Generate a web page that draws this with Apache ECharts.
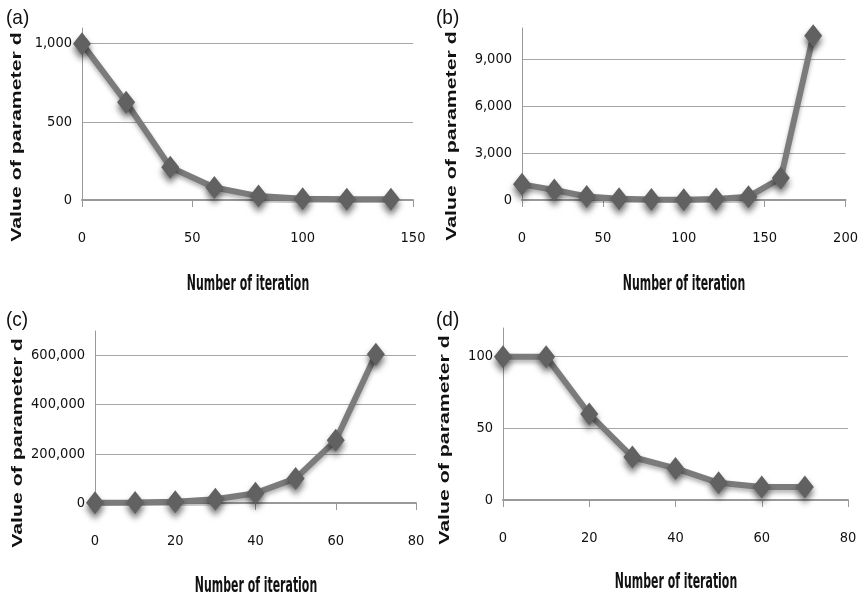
<!DOCTYPE html>
<html>
<head>
<meta charset="utf-8">
<script src="https://cdn.jsdelivr.net/npm/echarts@6/dist/echarts.min.js"></script>
<style>
html,body{margin:0;padding:0;background:#fff;}
#chart{width:861px;height:599px;}
</style>
</head>
<body>
<div id="chart"></div>
<script>
// ---- data ----
const panelLabels = ['(a)', '(b)', '(c)', '(d)'];
const xTitle = 'Number of iteration';
const yTitle = 'Value of parameter d';

const iterA = [0, 20, 40, 60, 80, 100, 120, 140];
const valA  = [1000, 625, 210, 80, 25, 8, 5, 5];

const iterB = [0, 20, 40, 60, 80, 100, 120, 140, 160, 180];
const valB  = [1000, 640, 220, 80, 30, 20, 60, 210, 1400, 10500];

const iterC = [0, 10, 20, 30, 40, 50, 60, 70];
const valC  = [1000, 2000, 5000, 15000, 40000, 100000, 255000, 605000];

const iterD = [0, 10, 20, 30, 40, 50, 60, 70];
const valD  = [100, 100, 60, 30, 22, 12, 9, 9];

// axis ranges / tick steps
const xMax = [150, 200, 80, 80];
const xStep = [50, 50, 20, 20];
const yMax = [1100, 11000, 700000, 120];
const yStep = [500, 3000, 200000, 50];

// ---- layout ----
const grids = [
  {left: 82,  right: 448, top: 28,  bottom: 399},
  {left: 522, right: 14,  top: 28,  bottom: 399},
  {left: 95,  right: 445, top: 331, bottom: 96},
  {left: 503, right: 13,  top: 328, bottom: 99}
];

const series = [[iterA, valA], [iterB, valB], [iterC, valC], [iterD, valD]];

const tickFont = '"DejaVu Sans Condensed", "Liberation Sans Narrow", sans-serif';
const fmt = v => Number(v).toLocaleString('en-US');

const xAxes = grids.map((g, i) => ({
  type: 'value', gridIndex: i, min: 0, max: xMax[i], interval: xStep[i],
  axisLine: {show: true, lineStyle: {color: '#999', width: 2}},
  axisTick: {show: true, length: 7, lineStyle: {color: '#999', width: 1}},
  axisLabel: {margin: 31, fontFamily: tickFont, fontSize: 14.5, color: '#111'},
  splitLine: {show: false}
}));

const yAxes = grids.map((g, i) => ({
  type: 'value', gridIndex: i, min: 0, max: yMax[i], interval: yStep[i],
  axisLine: {show: true, lineStyle: {color: '#999', width: 1}},
  axisTick: {show: false},
  axisLabel: {margin: 10, fontFamily: tickFont, fontSize: 14.5, color: '#111',
              showMaxLabel: false, formatter: fmt},
  splitLine: {show: true, showMaxLine: false, lineStyle: {color: '#a6a6a6', width: 1}}
}));

const seriesOpts = series.map((s, i) => ({
  type: 'line', xAxisIndex: i, yAxisIndex: i,
  data: s[0].map((x, k) => [x, s[1][k]]),
  symbol: 'diamond', symbolSize: [18, 23],
  lineStyle: {color: '#7b7b7b', width: 6, shadowBlur: 4, shadowOffsetY: 3, shadowColor: 'rgba(0,0,0,0.3)'},
  itemStyle: {color: '#616161', shadowBlur: 6, shadowOffsetY: 5, shadowColor: 'rgba(0,0,0,0.55)'},
  animation: false, silent: true
}));

// titles as graphic text
const panelPos = [[6, 8], [436, 8], [6, 310], [436, 310]];
const yTitlePos = [[17, 137], [452, 136], [18, 443], [445, 440]];
const xTitlePos = [[248, 285], [684, 285], [256, 587], [676, 583]];

const graphics = [];
panelLabels.forEach((t, i) => {
  graphics.push({type: 'text', x: panelPos[i][0], y: panelPos[i][1], scaleY: 1.1,
    style: {text: t, fontFamily: '"Liberation Sans", Arial, sans-serif', fontSize: 19, fill: '#111',
            textAlign: 'left', textVerticalAlign: 'top'}});
  graphics.push({type: 'text', x: yTitlePos[i][0], y: yTitlePos[i][1], rotation: Math.PI / 2, scaleX: 1.42,
    style: {text: yTitle, fontFamily: '"Liberation Sans", Arial, sans-serif', fontWeight: 'bold', fontSize: 15,
            fill: '#111', textAlign: 'center', textVerticalAlign: 'middle'}});
  graphics.push({type: 'text', x: xTitlePos[i][0], y: xTitlePos[i][1], scaleX: 0.76, scaleY: 1.3,
    style: {text: xTitle, fontFamily: tickFont, fontWeight: 'bold', fontSize: 16,
            fill: '#111', textAlign: 'center', textVerticalAlign: 'middle'}});
});

const chart = echarts.init(document.getElementById('chart'), null, {renderer: 'canvas'});
chart.setOption({
  backgroundColor: '#fff',
  animation: false,
  grid: grids,
  xAxis: xAxes,
  yAxis: yAxes,
  series: seriesOpts,
  graphic: graphics
});
</script>
</body>
</html>
